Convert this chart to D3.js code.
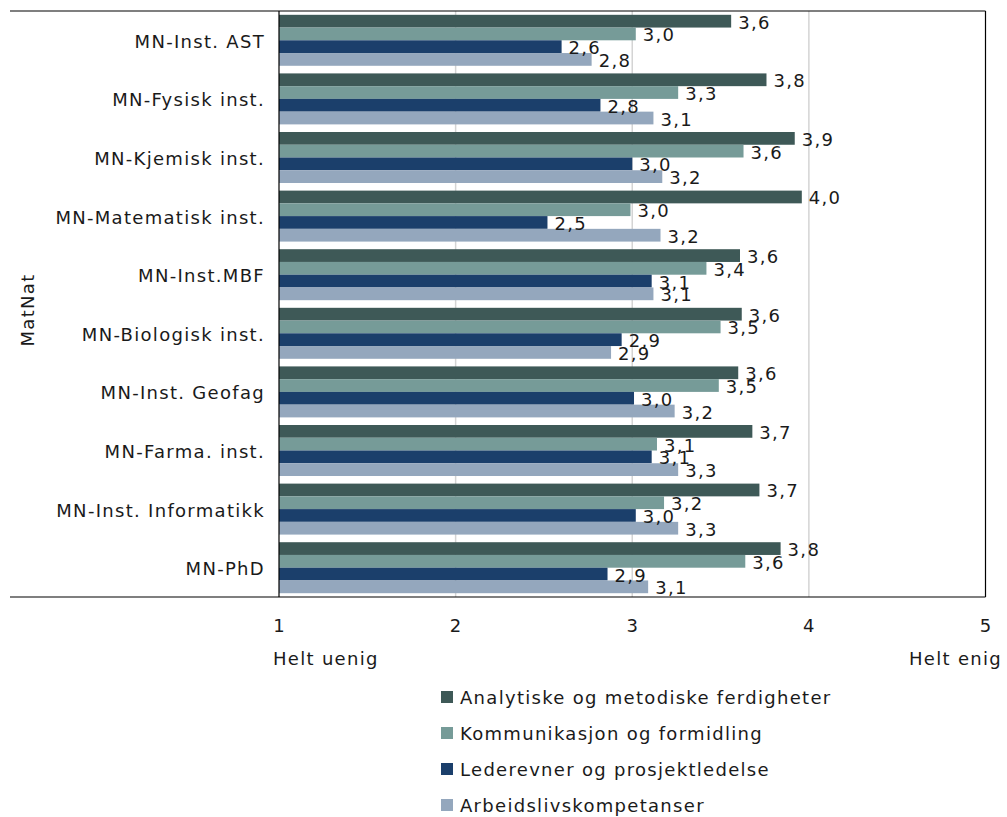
<!DOCTYPE html>
<html><head><meta charset="utf-8">
<script src="https://cdn.jsdelivr.net/npm/d3@7"></script>
<style>
body{margin:0;background:#fff;}
text{font-family:"DejaVu Sans",Verdana,sans-serif;fill:#1a1a1a;}
</style></head>
<body><svg id="c" width="1007" height="817"></svg>
<script>
const categories = ["MN-Inst. AST","MN-Fysisk inst.","MN-Kjemisk inst.","MN-Matematisk inst.","MN-Inst.MBF","MN-Biologisk inst.","MN-Inst. Geofag","MN-Farma. inst.","MN-Inst. Informatikk","MN-PhD"];
const seriesNames = ["Analytiske og metodiske ferdigheter","Kommunikasjon og formidling","Lederevner og prosjektledelse","Arbeidslivskompetanser"];
const analytiske   = [3.56,3.76,3.92,3.96,3.61,3.62,3.60,3.68,3.72,3.84];
const kommunikasjon= [3.02,3.26,3.63,2.99,3.42,3.50,3.49,3.14,3.18,3.64];
const lederevner   = [2.60,2.82,3.00,2.52,3.11,2.94,3.01,3.11,3.02,2.86];
const arbeidsliv   = [2.77,3.12,3.17,3.16,3.12,2.88,3.24,3.26,3.26,3.09];
const tickValues = [1,2,3,4,5];
const endLabels = ["Helt uenig","Helt enig"];
const axisTitle = "MatNat";
const colors = ["#3e5957","#769b98","#1b3f6b","#94a7bd"];

const seriesValues = [analytiske, kommunikasjon, lederevner, arbeidsliv];
const svg = d3.select("#c");
const L = 279, R = 985.5, T = 11, B = 597, FL = 10;
const FS = 18, LS = "1.3px";

const x = d3.scaleLinear().domain([1,5]).range([L,R]);
const y0 = d3.scaleBand().domain(categories).range([T,B]).paddingInner(0.13).paddingOuter(0.065);
const y1 = d3.scaleBand().domain(d3.range(seriesNames.length)).range([0,y0.bandwidth()]);
const fmt = v => d3.format(".1f")(v).replace(".",",");

// gridlines
svg.append("g").selectAll("line").data([2,3,4]).join("line")
  .attr("x1",d=>x(d)).attr("x2",d=>x(d)).attr("y1",T).attr("y2",B)
  .attr("stroke","#d4d4d4").attr("stroke-width",1.5);

// bars
const groups = svg.append("g").selectAll("g").data(categories).join("g")
  .attr("transform",c=>`translate(0,${y0(c)})`);
groups.selectAll("rect").data((c,i)=>seriesValues.map((s,k)=>({k,v:s[i]}))).join("rect")
  .attr("x",x(1)).attr("y",d=>y1(d.k)).attr("height",y1.bandwidth())
  .attr("width",d=>x(d.v)-x(1)).attr("fill",d=>colors[d.k]);
groups.selectAll("text").data((c,i)=>seriesValues.map((s,k)=>({k,v:s[i]}))).join("text")
  .attr("x",d=>x(d.v)+7).attr("y",d=>y1(d.k)+y1.bandwidth()/2+7.5)
  .attr("font-size",FS).attr("letter-spacing",LS).text(d=>fmt(d.v));

// frame
const fr = svg.append("g").attr("stroke","#000").attr("stroke-width",1.2);
fr.append("line").attr("x1",FL).attr("x2",R).attr("y1",T).attr("y2",T);
fr.append("line").attr("x1",FL).attr("x2",R).attr("y1",B).attr("y2",B);
fr.append("line").attr("x1",R).attr("x2",R).attr("y1",T).attr("y2",B);
fr.append("line").attr("x1",L).attr("x2",L).attr("y1",T).attr("y2",B);

// y axis
const ya = svg.append("g").attr("transform",`translate(${L},0)`)
  .call(d3.axisLeft(y0).tickSize(0).tickPadding(14));
ya.select(".domain").remove();
ya.selectAll("text").attr("font-size",FS).attr("letter-spacing",LS).attr("dy","0.42em")
  .style("font-family","'DejaVu Sans',Verdana,sans-serif").attr("fill","#1a1a1a");

// x axis
const xa = svg.append("g").attr("transform",`translate(0,${B})`)
  .call(d3.axisBottom(x).tickValues(tickValues).tickSize(0).tickPadding(22).tickFormat(d3.format("d")));
xa.select(".domain").remove();
xa.selectAll("text").attr("font-size",FS).attr("letter-spacing",LS)
  .style("font-family","'DejaVu Sans',Verdana,sans-serif").attr("fill","#1a1a1a");

svg.append("text").attr("x",273).attr("y",665).attr("font-size",FS).attr("letter-spacing",LS).text(endLabels[0]);
svg.append("text").attr("x",1002).attr("y",665).attr("text-anchor","end").attr("font-size",FS).attr("letter-spacing",LS).text(endLabels[1]);

svg.append("text").attr("transform","translate(34,310) rotate(-90)").attr("text-anchor","middle")
  .attr("font-size",FS).attr("letter-spacing",LS).text(axisTitle);

// legend
const lg = svg.append("g").selectAll("g").data(seriesNames).join("g")
  .attr("transform",(d,i)=>`translate(441,${697+i*36})`);
lg.append("rect").attr("x",0).attr("y",-6).attr("width",12).attr("height",12).attr("fill",(d,i)=>colors[i]);
lg.append("text").attr("x",19).attr("y",6.5).attr("font-size",FS).attr("letter-spacing",LS).text(d=>d);
</script></body></html>
